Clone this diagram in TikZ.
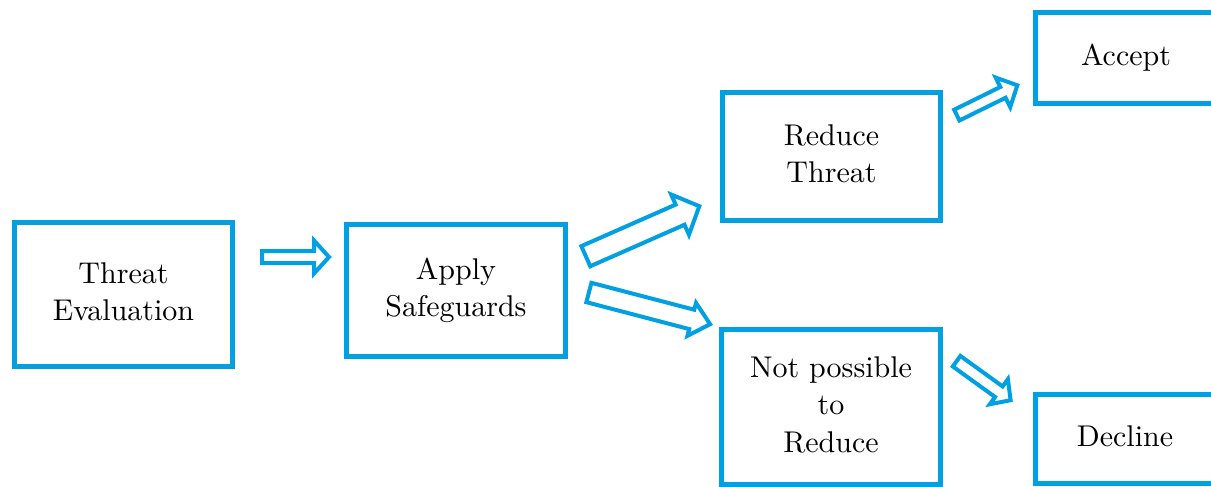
\documentclass[tikz,border=0pt]{standalone}
\usepackage{graphicx}
\usetikzlibrary{calc}
\definecolor{myblue}{RGB}{0,160,227}
\tikzset{
  box/.style={draw=myblue, line width=5pt, fill=white, inner sep=0pt, align=center},
  blockarrow/.style={draw=myblue, line width=4pt, line join=miter, fill=white},
}
\newcommand\lbl[1]{\scalebox{3}{\fontsize{10}{12.5}\selectfont\begin{tabular}{@{}c@{}}#1\end{tabular}}}
% #1 tail coordinate, #2 tip coordinate, #3 shaft half width, #4 head half width, #5 head length
\newcommand\blockarr[5]{%
  \coordinate (hb) at ($(#2)!#5!(#1)$);
  \draw[blockarrow] ($(#1)!#3!90:(#2)$) -- ($(hb)!#3!90:(#2)$) -- ($(hb)!#4!90:(#2)$)
     -- (#2) -- ($(hb)!#4!-90:(#2)$) -- ($(hb)!#3!-90:(#2)$) -- ($(#1)!#3!-90:(#2)$) -- cycle;
}
\begin{document}
\begin{tikzpicture}[x=1pt,y=-1pt]
\useasboundingbox (0,0) rectangle (1211,487);
\clip (0,0) rectangle (1211,487);
\fill[white] (0,0) rectangle (1211,487);

\node[box, minimum width=218pt, minimum height=144pt] (te) at (123.5,294.5) {\lbl{Threat\\Evaluation}};
\node[box, minimum width=219pt, minimum height=132pt] (as) at (456,290.5) {\lbl{Apply\\Safeguards}};
\node[box, minimum width=218pt, minimum height=128pt] (rt) at (831.5,156.5) {\lbl{Reduce\\Threat}};
\node[box, minimum width=219pt, minimum height=155pt] (np) at (831,407) {\lbl{Not possible\\to\\Reduce}};
\node[box, minimum width=181pt, minimum height=91pt] (ac) at (1126,58) {\lbl{Accept}};
\node[box, minimum width=179pt, minimum height=89pt] (de) at (1125,439) {\lbl{Decline}};

\coordinate (a1t) at (262,257);     \coordinate (a1h) at (329,257);
\coordinate (a2t) at (585.8,256.2); \coordinate (a2h) at (699.3,206.2);
\coordinate (a3t) at (588.9,292.5); \coordinate (a3h) at (710.1,324.2);
\coordinate (a4t) at (956.8,115.1); \coordinate (a4h) at (1017.3,85.3);
\coordinate (a5t) at (956.6,361.2); \coordinate (a5h) at (1010.6,400.2);

\blockarr{a1t}{a1h}{6pt}{16.5pt}{15pt}
\blockarr{a2t}{a2h}{11pt}{22pt}{21pt}
\blockarr{a3t}{a3h}{10pt}{17pt}{19pt}
\blockarr{a4t}{a4h}{6pt}{16.5pt}{16pt}
\blockarr{a5t}{a5h}{6.5pt}{15.5pt}{14.5pt}
\end{tikzpicture}
\end{document}
